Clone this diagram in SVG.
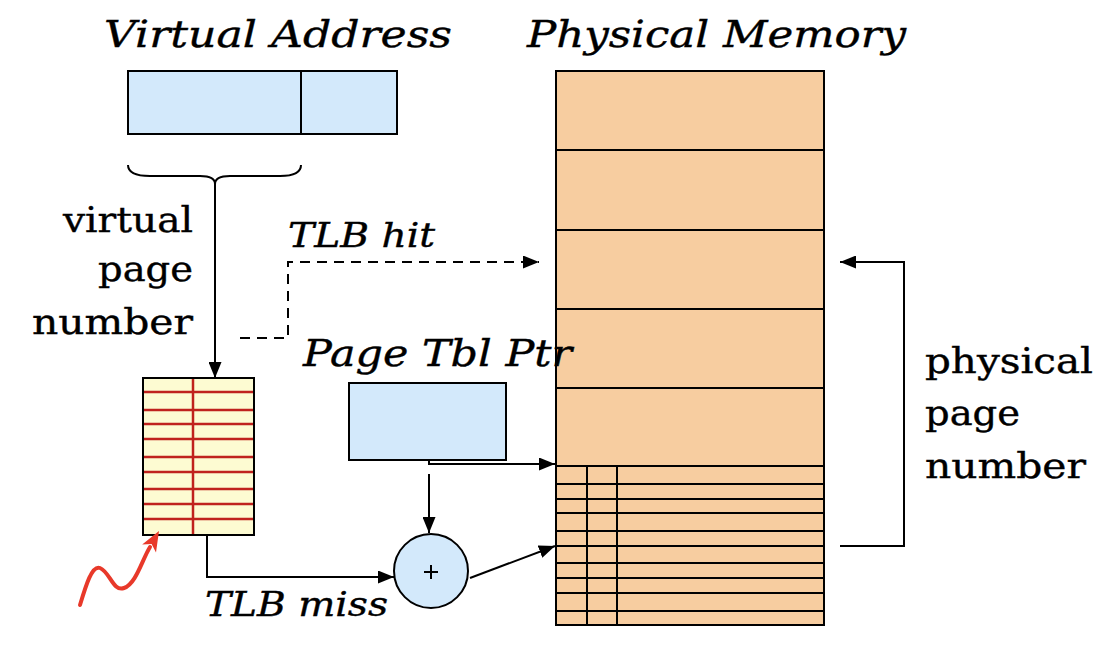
<svg xmlns="http://www.w3.org/2000/svg" width="1104" height="648" viewBox="0 0 1104 648">
<style>
text{font-family:"DejaVu Serif","Liberation Serif",serif;fill:#000;stroke:#000;stroke-width:0.4}
.it{font-style:italic}
.blue{fill:#d3e9fb;stroke:#000;stroke-width:2}
.mem{fill:#f7cda0;stroke:#000;stroke-width:2}
.ln{stroke:#000;stroke-width:2;fill:none}
.red{stroke:#c0221d;stroke-width:2.5;fill:none}
</style>
<defs>
<marker id="ah" markerWidth="16" markerHeight="13" refX="16" refY="6.5" orient="auto" markerUnits="userSpaceOnUse" viewBox="0 0 16 13">
<path d="M0,0 L16,6.5 L0,13 z" fill="#000"/>
</marker>
</defs>

<g id="virtual-address">
<rect class="blue" x="128" y="71" width="269" height="63"/>
<line class="ln" x1="301" y1="71" x2="301" y2="134"/>
<path class="ln" d="M128,165 Q128,176 150,176 L200,176 Q215,176 215,184 Q215,176 230,176 L280,176 Q301,176 301,165"/>
</g>

<g id="physical-memory">
<rect class="mem" x="556" y="71" width="268" height="554"/>
<g class="ln">
<line x1="556" y1="150" x2="824" y2="150"/>
<line x1="556" y1="230" x2="824" y2="230"/>
<line x1="556" y1="309" x2="824" y2="309"/>
<line x1="556" y1="388" x2="824" y2="388"/>
<line x1="556" y1="466" x2="824" y2="466"/>
<line x1="556" y1="484" x2="824" y2="484"/>
<line x1="556" y1="499" x2="824" y2="499"/>
<line x1="556" y1="513" x2="824" y2="513"/>
<line x1="556" y1="531" x2="824" y2="531"/>
<line x1="556" y1="546" x2="824" y2="546"/>
<line x1="556" y1="563" x2="824" y2="563"/>
<line x1="556" y1="578" x2="824" y2="578"/>
<line x1="556" y1="593" x2="824" y2="593"/>
<line x1="556" y1="611" x2="824" y2="611"/>
<line x1="587" y1="466" x2="587" y2="625"/>
<line x1="617" y1="466" x2="617" y2="625"/>
</g>
</g>

<g id="tlb">
<rect x="143" y="378" width="111" height="157" fill="#fdfbd2" stroke="#000" stroke-width="2"/>
<g class="red">
<line x1="193" y1="379" x2="193" y2="534"/>
<line x1="144" y1="392" x2="253" y2="392"/>
<line x1="144" y1="410" x2="253" y2="410"/>
<line x1="144" y1="424" x2="253" y2="424"/>
<line x1="144" y1="439" x2="253" y2="439"/>
<line x1="144" y1="457" x2="253" y2="457"/>
<line x1="144" y1="472" x2="253" y2="472"/>
<line x1="144" y1="489" x2="253" y2="489"/>
<line x1="144" y1="504" x2="253" y2="504"/>
<line x1="144" y1="519" x2="253" y2="519"/>
</g>
</g>

<g id="page-tbl-ptr">
<rect class="blue" x="349" y="383" width="157" height="77"/>
</g>

<g id="adder">
<circle class="blue" cx="431" cy="571" r="37"/>
<path class="ln" d="M424,572 H438 M431,565 V579" stroke-width="1.5"/>
</g>

<g id="squiggle">
<path d="M80,605 C86,585 92,565 100,568 C110,572 113,592 124,588 C136,584 142,560 150,547" stroke="#e8392a" stroke-width="4" fill="none" stroke-linecap="round"/>
<polygon points="159,531 156,552.4 151.6,544 142.2,544.4" fill="#e8392a"/>
</g>

<g id="connectors">
<line class="ln" x1="215" y1="184" x2="215" y2="378" marker-end="url(#ah)"/>
<path class="ln" d="M240,338 H288 V262 H539" stroke-dasharray="10,7" marker-end="url(#ah)"/>
<path class="ln" d="M429,460 V464 H555" marker-end="url(#ah)"/>
<line class="ln" x1="429" y1="474" x2="429" y2="533" marker-end="url(#ah)"/>
<path class="ln" d="M207,535 V577 H394" marker-end="url(#ah)"/>
<line class="ln" x1="470" y1="578" x2="555" y2="546" marker-end="url(#ah)"/>
<path class="ln" d="M840,546 H904 V262 H840" marker-end="url(#ah)"/>
</g>

<g id="labels">
<text class="it" x="104" y="47" font-size="38" textLength="348" lengthAdjust="spacingAndGlyphs">Virtual Address</text>
<text class="it" x="527" y="47" font-size="38" textLength="379" lengthAdjust="spacingAndGlyphs">Physical Memory</text>
<text x="63" y="232" font-size="36" textLength="130" lengthAdjust="spacingAndGlyphs">virtual</text>
<text x="98" y="281" font-size="36" textLength="95" lengthAdjust="spacingAndGlyphs">page</text>
<text x="32" y="334" font-size="36" textLength="161" lengthAdjust="spacingAndGlyphs">number</text>
<text class="it" x="288" y="247" font-size="34" textLength="147" lengthAdjust="spacingAndGlyphs">TLB hit</text>
<text class="it" x="303" y="366" font-size="38" textLength="269" lengthAdjust="spacingAndGlyphs">Page Tbl Ptr</text>
<text class="it" x="205" y="616" font-size="34" textLength="183" lengthAdjust="spacingAndGlyphs">TLB miss</text>
<text x="925" y="373" font-size="36" textLength="168" lengthAdjust="spacingAndGlyphs">physical</text>
<text x="925" y="425" font-size="36" textLength="95" lengthAdjust="spacingAndGlyphs">page</text>
<text x="925" y="478" font-size="36" textLength="161" lengthAdjust="spacingAndGlyphs">number</text>
</g>
</svg>
